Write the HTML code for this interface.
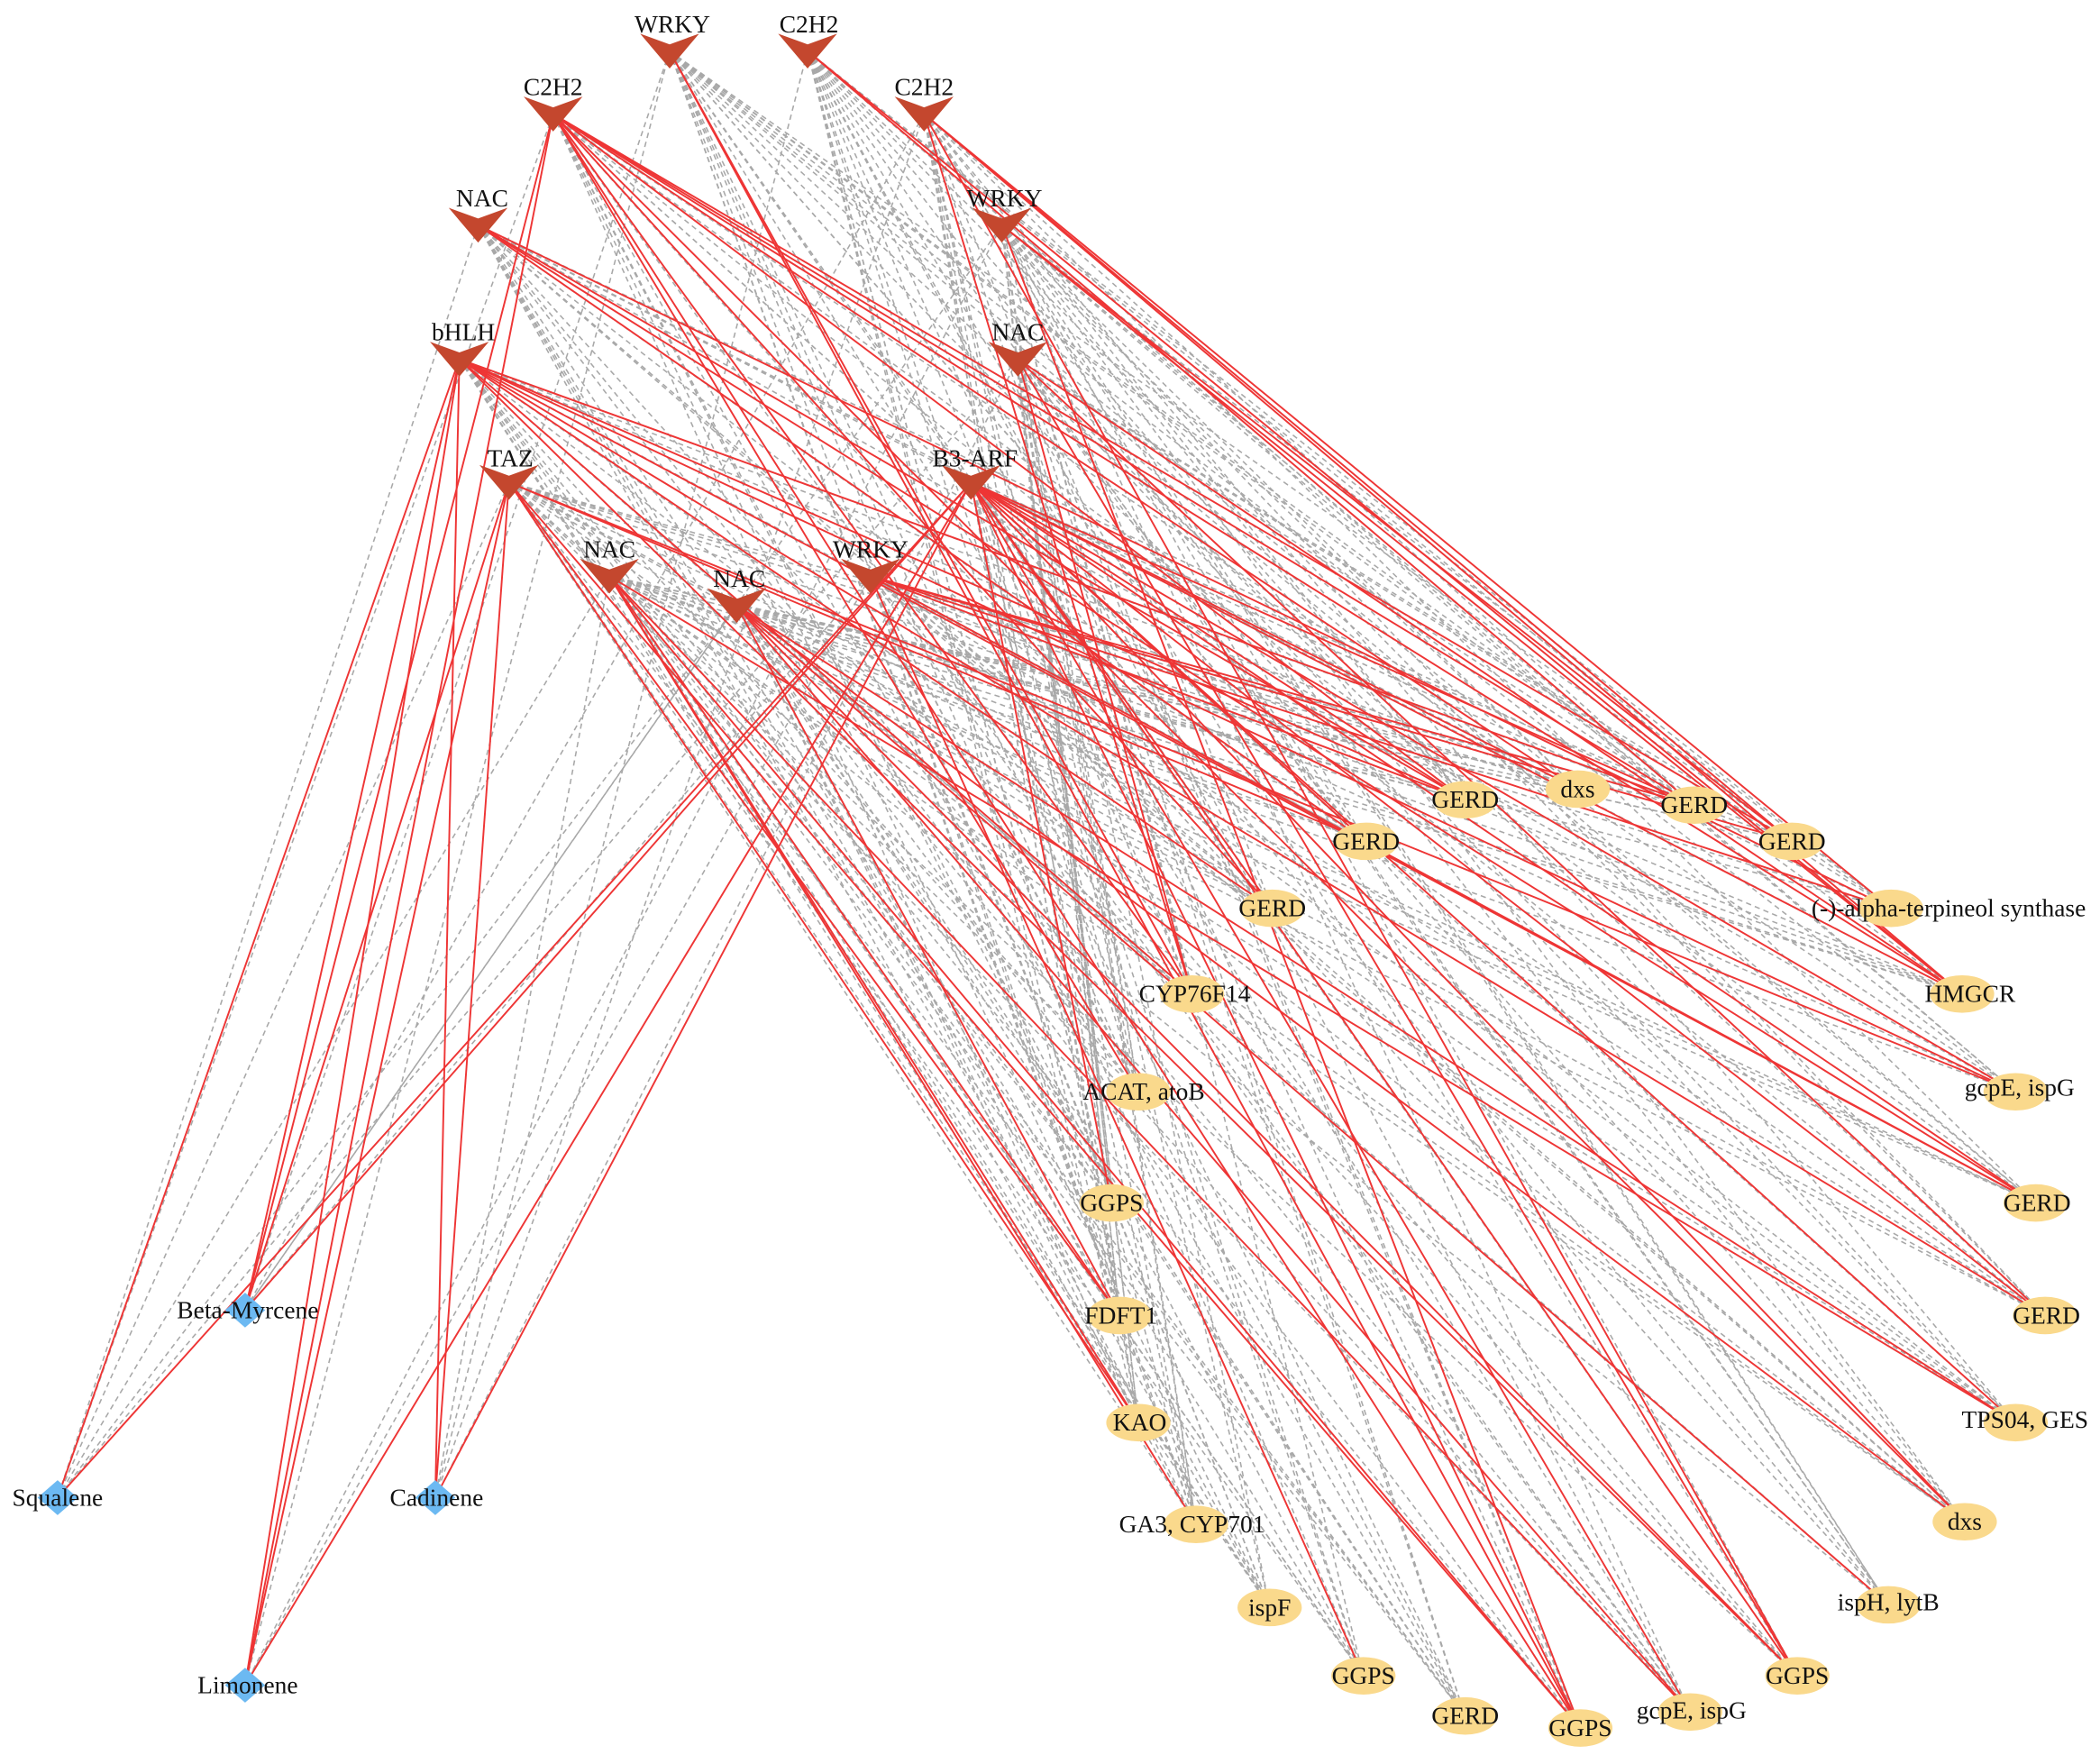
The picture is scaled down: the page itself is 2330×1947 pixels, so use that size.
<!DOCTYPE html>
<html><head><meta charset="utf-8"><style>
html,body{margin:0;padding:0;background:#fff;}
svg{display:block;}
text{font-family:"Liberation Serif",serif;font-size:18.5px;fill:#111;}
</style></head><body>
<svg id="s" width="2330" height="1947" viewBox="0 0 1568 1310" xmlns="http://www.w3.org/2000/svg">
<g id="gray" stroke="#a8a8a8" stroke-width="1.05" stroke-dasharray="4,3" fill="none"></g>
<g id="red" stroke="#ee3535" stroke-width="1.3" fill="none"></g>
<g id="nodes"></g>
<g id="labels">
<text x="502" y="24" text-anchor="middle">WRKY</text>
<text x="604" y="24" text-anchor="middle">C2H2</text>
<text x="413" y="71" text-anchor="middle">C2H2</text>
<text x="690" y="71" text-anchor="middle">C2H2</text>
<text x="360" y="154" text-anchor="middle">NAC</text>
<text x="750" y="154" text-anchor="middle">WRKY</text>
<text x="346" y="254" text-anchor="middle">bHLH</text>
<text x="760" y="254" text-anchor="middle">NAC</text>
<text x="381" y="348" text-anchor="middle">TAZ</text>
<text x="728" y="348" text-anchor="middle">B3-ARF</text>
<text x="455" y="416" text-anchor="middle">NAC</text>
<text x="552" y="438" text-anchor="middle">NAC</text>
<text x="650" y="416" text-anchor="middle">WRKY</text>
<text x="185" y="984" text-anchor="middle">Beta-Myrcene</text>
<text x="43" y="1124" text-anchor="middle">Squalene</text>
<text x="326" y="1124" text-anchor="middle">Cadinene</text>
<text x="185" y="1264" text-anchor="middle">Limonene</text>
<text x="1094" y="603" text-anchor="middle">GERD</text>
<text x="1178" y="595" text-anchor="middle">dxs</text>
<text x="1265" y="607" text-anchor="middle">GERD</text>
<text x="1020" y="634" text-anchor="middle">GERD</text>
<text x="1338" y="634" text-anchor="middle">GERD</text>
<text x="950" y="684" text-anchor="middle">GERD</text>
<text x="1455" y="684" text-anchor="middle">(-)-alpha-terpineol synthase</text>
<text x="1471" y="748" text-anchor="middle">HMGCR</text>
<text x="892" y="748" text-anchor="middle">CYP76F14</text>
<text x="1508" y="818" text-anchor="middle">gcpE, ispG</text>
<text x="854" y="821" text-anchor="middle">ACAT, atoB</text>
<text x="1521" y="904" text-anchor="middle">GERD</text>
<text x="830" y="904" text-anchor="middle">GGPS</text>
<text x="1528" y="988" text-anchor="middle">GERD</text>
<text x="837" y="988" text-anchor="middle">FDFT1</text>
<text x="1512" y="1066" text-anchor="middle">TPS04, GES</text>
<text x="851" y="1068" text-anchor="middle">KAO</text>
<text x="1467" y="1142" text-anchor="middle">dxs</text>
<text x="890" y="1144" text-anchor="middle">GA3, CYP701</text>
<text x="948" y="1206" text-anchor="middle">ispF</text>
<text x="1410" y="1202" text-anchor="middle">ispH, lytB</text>
<text x="1018" y="1257" text-anchor="middle">GGPS</text>
<text x="1342" y="1257" text-anchor="middle">GGPS</text>
<text x="1094" y="1287" text-anchor="middle">GERD</text>
<text x="1180" y="1296" text-anchor="middle">GGPS</text>
<text x="1263" y="1283" text-anchor="middle">gcpE, ispG</text>
</g>
</svg>
<script>
var NS="http://www.w3.org/2000/svg";
var tf=[[500,38],[603,38],[413,85],[690,85],[357,168],[748,168],[343,268],[760,268],[380,360],[725,360],[455,430],[550,452],[650,430]];
var tg=[[1094,597],[1178,589],[1265,601],[1020,628],[1338,628],[950,678],[1412,678],[1465,742],[890,742],[1505,815],[850,815],[1520,898],[830,898],[1527,982],[836,982],[1505,1062],[850,1062],[1467,1136],[893,1138],[948,1200],[1410,1198],[1018,1251],[1342,1251],[1094,1281],[1180,1290],[1262,1278],[183,978],[43,1118],[325,1118],[183,1258]];
var red=[[8,24],[2,7],[0,2,4,7,5,8,10,17,26,29,24,1],[4,6,7,22,8],[0,3,6,11],[4,7,24],[26,29,27,28,0,2,9,8,5,22,11,13],[7,8,22,13],[26,29,28,16,14,3,9,24],[26,27,28,29,0,1,2,3,5,7,9,11,13,15,17,22,24,25,12],[16,18,14,24,25,15],[22,25,17,20,15,14],[0,2,4,6,11,21]];
function ln(g,a,b){var l=document.createElementNS(NS,"line");l.setAttribute("x1",a[0]);l.setAttribute("y1",a[1]);l.setAttribute("x2",b[0]);l.setAttribute("y2",b[1]);g.appendChild(l);}
var G=document.getElementById("gray"),R=document.getElementById("red"),N=document.getElementById("nodes");
for(var i=0;i<tf.length;i++){for(var j=0;j<tg.length;j++){
 if(red[i].indexOf(j)>=0) ln(R,tf[i],tg[j]);
 else if((i*7+j*3)%4!=0 && !(j>=26 && (i+j)%3==0)) ln(G,tf[i],tg[j]);
}}
for(var j=0;j<26;j++){var e=document.createElementNS(NS,"ellipse");e.setAttribute("cx",tg[j][0]);e.setAttribute("cy",tg[j][1]);e.setAttribute("rx",24);e.setAttribute("ry",14);e.setAttribute("fill","#fad98c");N.appendChild(e);}
for(var j=26;j<30;j++){var p=document.createElementNS(NS,"polygon");var x=tg[j][0],y=tg[j][1];p.setAttribute("points",(x-15)+","+y+" "+x+","+(y-13)+" "+(x+15)+","+y+" "+x+","+(y+13));p.setAttribute("fill","#6cb9f2");N.appendChild(p);}
for(var i=0;i<tf.length;i++){var x=tf[i][0],y=tf[i][1];var p=document.createElementNS(NS,"polygon");p.setAttribute("points",(x-22)+","+(y-13)+" "+x+","+(y-5)+" "+(x+22)+","+(y-13)+" "+x+","+(y+13));p.setAttribute("fill","#c4472e");N.appendChild(p);}
</script>
</body></html>
